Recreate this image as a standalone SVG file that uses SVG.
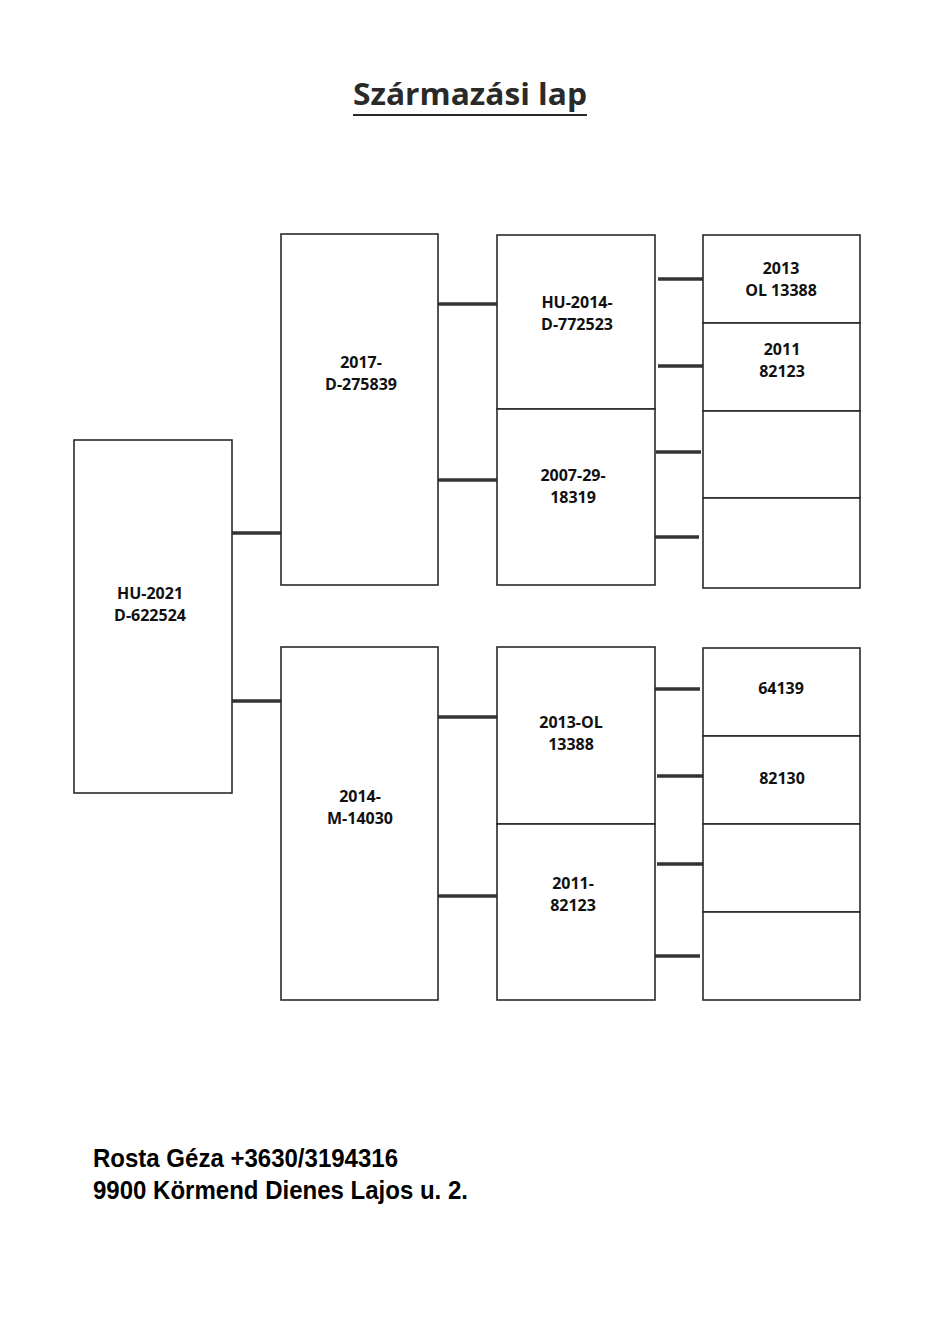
<svg xmlns="http://www.w3.org/2000/svg" width="944" height="1334" viewBox="0 0 944 1334">
<style>
.box{fill:#fff;stroke:#2a2a2a;stroke-width:1.6}
.lbl{font-family:"Open Sans","Noto Sans",sans-serif;font-weight:bold;font-size:16px;fill:#111;text-anchor:middle}
.con line{stroke:#333;stroke-width:3.5}
.title{font-family:"Open Sans","Noto Sans",sans-serif;font-weight:bold;font-size:31px;fill:#2a2a2a}
.foot{font-family:"Liberation Sans",Arial,sans-serif;font-weight:bold;font-size:26px;fill:#000}
</style>
<rect width="944" height="1334" fill="#fff"/>
<g id="title">
<text class="title" x="353" y="105" textLength="234" lengthAdjust="spacingAndGlyphs">Származási lap</text>
<line x1="353" y1="115" x2="587" y2="115" stroke="#2a2a2a" stroke-width="2"/>
</g>
<g id="connectors" class="con">
<line x1="232" y1="533" x2="281" y2="533"/>
<line x1="232" y1="701" x2="281" y2="701"/>
<line x1="438" y1="304" x2="497" y2="304"/>
<line x1="438" y1="480" x2="497" y2="480"/>
<line x1="438" y1="717" x2="497" y2="717"/>
<line x1="438" y1="896" x2="497" y2="896"/>
<line x1="658" y1="279" x2="703" y2="279"/>
<line x1="658" y1="366" x2="703" y2="366"/>
<line x1="656" y1="452" x2="701" y2="452"/>
<line x1="655" y1="537" x2="699" y2="537"/>
<line x1="655" y1="689" x2="700" y2="689"/>
<line x1="657" y1="776" x2="703" y2="776"/>
<line x1="657" y1="864" x2="703" y2="864"/>
<line x1="655" y1="956" x2="700" y2="956"/>
</g>
<g id="n-root"><rect class="box" x="74" y="440" width="158" height="353"/><text class="lbl" x="150" y="599">HU-2021</text><text class="lbl" x="150" y="621">D-622524</text></g>
<g id="n-sire"><rect class="box" x="281" y="234" width="157" height="351"/><text class="lbl" x="361" y="368">2017-</text><text class="lbl" x="361" y="390">D-275839</text></g>
<g id="n-dam"><rect class="box" x="281" y="647" width="157" height="353"/><text class="lbl" x="360" y="802">2014-</text><text class="lbl" x="360" y="824">M-14030</text></g>
<g id="n-ss"><rect class="box" x="497" y="235" width="158" height="174"/><text class="lbl" x="577" y="308">HU-2014-</text><text class="lbl" x="577" y="330">D-772523</text></g>
<g id="n-sd"><rect class="box" x="497" y="409" width="158" height="176"/><text class="lbl" x="573" y="481">2007-29-</text><text class="lbl" x="573" y="503">18319</text></g>
<g id="n-ds"><rect class="box" x="497" y="647" width="158" height="177"/><text class="lbl" x="571" y="728">2013-OL</text><text class="lbl" x="571" y="750">13388</text></g>
<g id="n-dd"><rect class="box" x="497" y="824" width="158" height="176"/><text class="lbl" x="573" y="889">2011-</text><text class="lbl" x="573" y="911">82123</text></g>
<g id="n-sss"><rect class="box" x="703" y="235" width="157" height="88"/><text class="lbl" x="781" y="274">2013</text><text class="lbl" x="781" y="296">OL 13388</text></g>
<g id="n-ssd"><rect class="box" x="703" y="323" width="157" height="88"/><text class="lbl" x="782" y="355">2011</text><text class="lbl" x="782" y="377">82123</text></g>
<g id="n-sds"><rect class="box" x="703" y="411" width="157" height="87"/></g>
<g id="n-sdd"><rect class="box" x="703" y="498" width="157" height="90"/></g>
<g id="n-dss"><rect class="box" x="703" y="648" width="157" height="88"/><text class="lbl" x="781" y="694">64139</text></g>
<g id="n-dsd"><rect class="box" x="703" y="736" width="157" height="88"/><text class="lbl" x="782" y="784">82130</text></g>
<g id="n-dds"><rect class="box" x="703" y="824" width="157" height="88"/></g>
<g id="n-ddd"><rect class="box" x="703" y="912" width="157" height="88"/></g>
<g id="footer">
<text class="foot" x="93" y="1167" textLength="305" lengthAdjust="spacingAndGlyphs">Rosta Géza +3630/3194316</text>
<text class="foot" x="93" y="1199" textLength="375" lengthAdjust="spacingAndGlyphs">9900 Körmend Dienes Lajos u. 2.</text>
</g>
</svg>
